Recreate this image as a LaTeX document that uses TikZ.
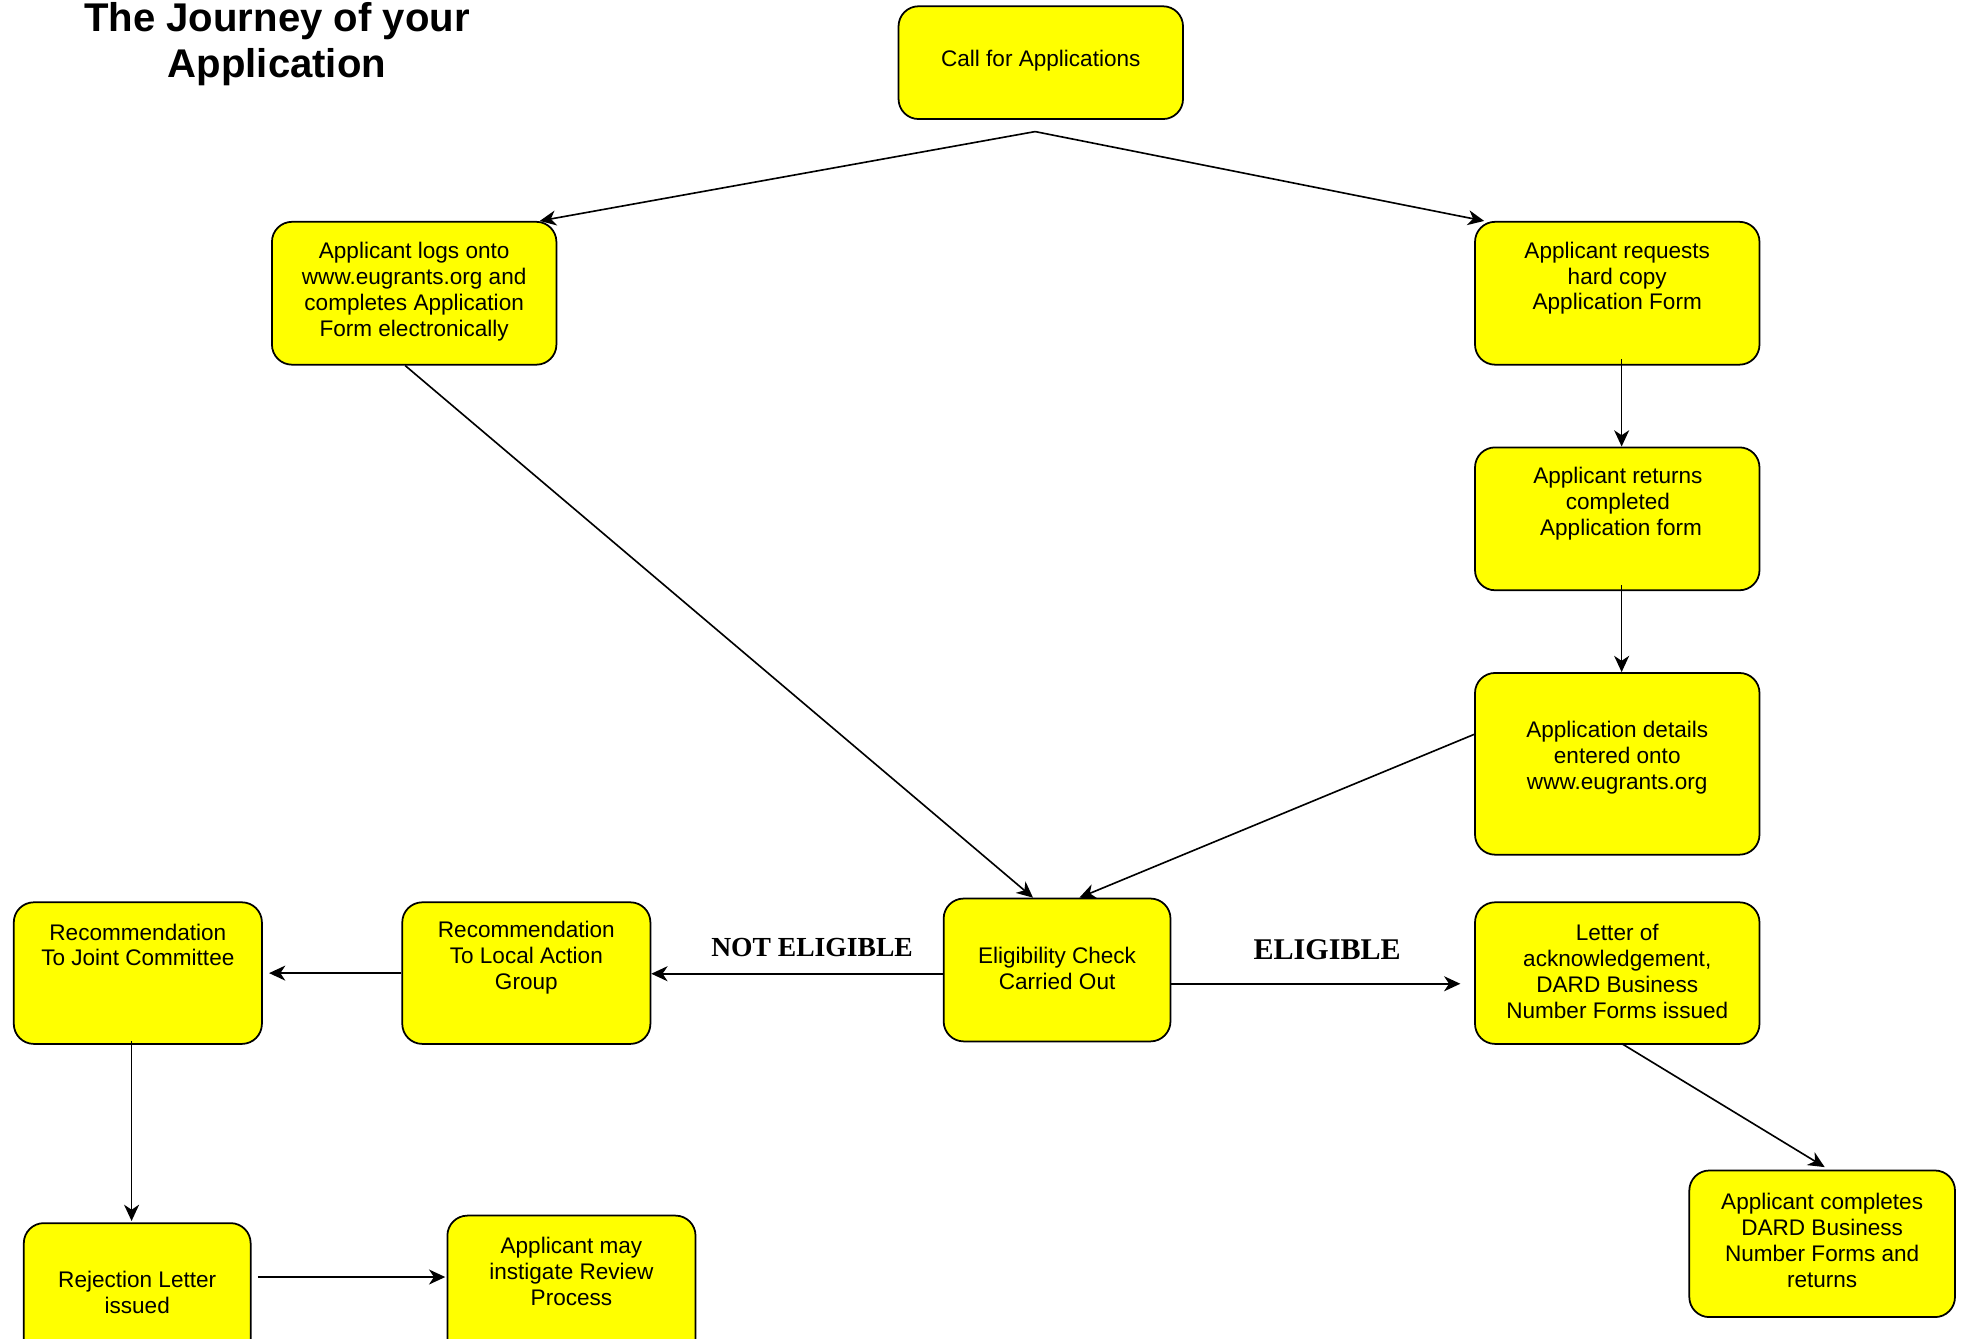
\documentclass[tikz,border=0pt]{standalone}
\usepackage{fontspec}
\setmainfont{Liberation Sans}
\newfontfamily\lblfont{Liberation Serif}
\usetikzlibrary{arrows.meta,calc}
\definecolor{boxyellow}{HTML}{FFFF00}
\tikzset{
  box/.style={draw=black, fill=boxyellow, rounded corners=16pt, line width=1.4pt, inner sep=0pt},
  txt/.style={align=center, inner sep=0pt, font=\fontsize{18}{20.7}\selectfont},
  lbl/.style={inner sep=0pt, font=\lblfont\bfseries},
  arr/.style={line width=1.3pt, -{Stealth[length=13pt,width=12pt,inset=4pt]}},
}
\begin{document}
\begin{tikzpicture}[x=1pt,y=-1pt]
\useasboundingbox (0,0) rectangle (1568,1068);
\clip (0,0) rectangle (1568,1068);
\fill[white] (0,0) rectangle (1568,1068);

% title
\node[inner sep=0pt, align=center, font=\fontsize{32}{37}\selectfont\bfseries] (title) at (221,35) {The Journey of your\\Application};

% boxes
\node[box, minimum width=227pt, minimum height=90pt]  (call)   at (830.5,50)   {};
\node[box, minimum width=227pt, minimum height=114pt] (logs)   at (330.5,234)  {};
\node[box, minimum width=227pt, minimum height=114pt] (req)    at (1290.5,234) {};
\node[box, minimum width=227pt, minimum height=114pt] (ret)    at (1290.5,414) {};
\node[box, minimum width=227pt, minimum height=145pt] (det)    at (1290.5,609.5) {};
\node[box, minimum width=181pt, minimum height=114pt] (elig)   at (843.5,774)  {};
\node[box, minimum width=227pt, minimum height=113pt] (letter) at (1290.5,776.5) {};
\node[box, minimum width=198pt, minimum height=113pt] (lag)    at (420,776.5)  {};
\node[box, minimum width=198pt, minimum height=113pt] (joint)  at (110,776.5)  {};
\node[box, minimum width=181pt, minimum height=114pt] (rej)    at (109.5,1033) {};
\node[box, minimum width=198pt, minimum height=114pt] (rev)    at (456,1027)   {};
\node[box, minimum width=212pt, minimum height=117pt] (dard)   at (1454,992.5) {};

% texts
\node[txt] (callt)   at (830.5,48.5)  {Call for Applications};
\node[txt] (logst)   at (330.5,232.5) {Applicant logs onto\\www.eugrants.org and\\completes Application\\Form electronically};
\node[txt] (reqt)    at (1290.5,222)  {Applicant requests\\hard copy\\Application Form};
\node[txt] (rett)    at (1291,402)    {Applicant returns\\completed\\\ Application form};
\node[txt] (dett)    at (1290.5,604.5){Application details\\entered onto\\www.eugrants.org};
\node[txt] (eligt)   at (843.5,772.5) {Eligibility Check\\Carried Out};
\node[txt] (lettert) at (1290.5,775)  {Letter of\\acknowledgement,\\DARD Business\\Number Forms issued};
\node[txt] (lagt)    at (420,764.5)   {Recommendation\\To Local Action\\Group};
\node[txt] (jointt)  at (110,754)     {Recommendation\\To Joint Committee};
\node[txt] (rejt)    at (109.5,1031)  {Rejection Letter\\issued};
\node[txt] (revt)    at (456,1014.5)  {Applicant may\\instigate Review\\Process};
\node[txt] (dardt)   at (1454,990)    {Applicant completes\\DARD Business\\Number Forms and\\returns};

% labels
\node[lbl, font=\lblfont\bfseries\fontsize{22}{26}\selectfont] (notel) at (648,756) {NOT ELIGIBLE};
\node[lbl, font=\lblfont\bfseries\fontsize{24}{28}\selectfont] (el) at (1059,758) {ELIGIBLE};

% connectors
\coordinate (split) at (826,105);
\draw[arr] (split) -- ($(logs.north east)+(-14,0)$);
\draw[arr] (split) -- ($(req.north west)+(8,0)$);
\draw[arr] ($(logs.south west)+(107,0)$) -- ($(elig.north west)+(72,0)$);
\draw[arr] ($(req.south)+(3.5,-5)$) -- ($(ret.north)+(3.5,0)$);
\draw[arr] ($(ret.south)+(3.5,-5)$) -- ($(det.north)+(3.5,0)$);
\draw[arr] ($(det.west)+(0,-23.5)$) -- ($(elig.north west)+(109,0)$);
\draw[arr] ($(elig.west)+(0,3)$) -- ($(lag.east)+(0,0.5)$);
\coordinate (eligend) at ($(letter.west)+(-11,8.5)$);
\draw[arr] ($(elig.east)+(0,11)$) -- (eligend);
\draw[arr] (lag.west) -- ($(joint.east)+(5,0)$);
\draw[arr] ($(joint.south)+(-5,-3)$) -- ($(rej.north)+(-4.5,-1)$);
\draw[arr] ($(rej.east)+(5,-14)$) -- ($(rev.west)+(-1,-8)$);
\draw[arr] ($(letter.south)+(3.5,-1)$) -- ($(dard.north)+(2,-2)$);
\end{tikzpicture}
\end{document}
